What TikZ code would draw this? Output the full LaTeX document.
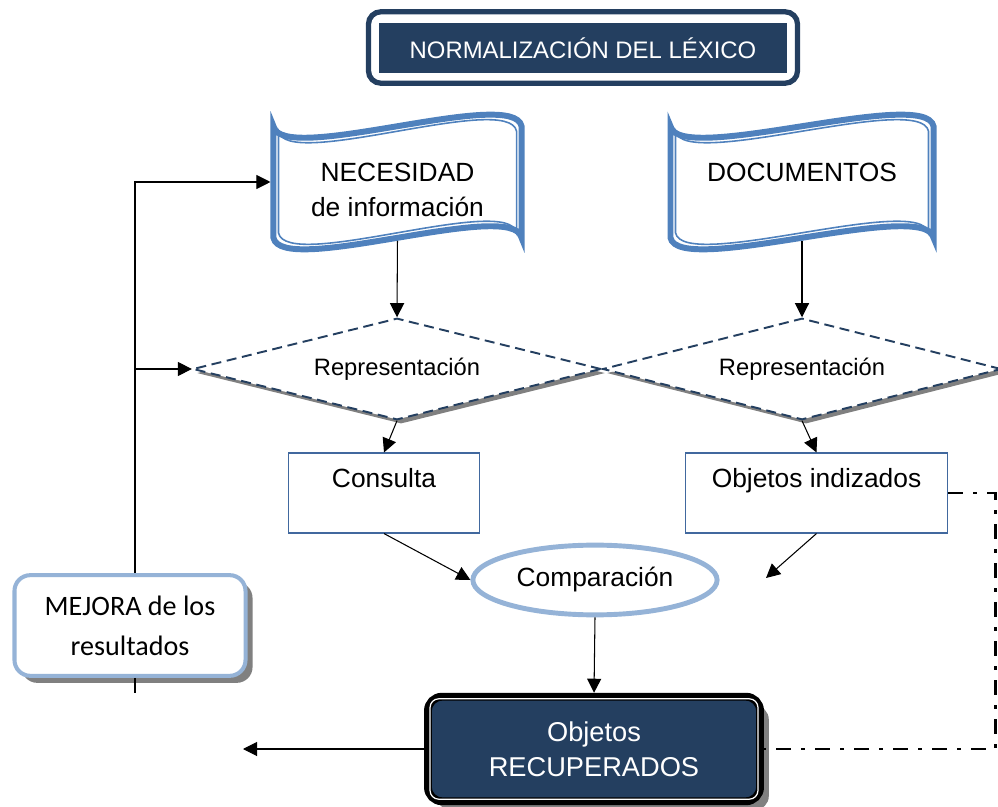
\documentclass[tikz,border=0pt]{standalone}
\usepackage{fontspec}
\setmainfont{Liberation Sans}
\newfontfamily\calibri{Carlito}
\usetikzlibrary{shapes.geometric,arrows.meta,calc,shadows}

\definecolor{navy}{HTML}{243F60}
\definecolor{docblue}{HTML}{4F81BD}
\definecolor{paleblue}{HTML}{95B3D7}
\definecolor{boxblue}{HTML}{41689E}
\definecolor{shgray}{HTML}{808080}

\tikzset{
  conn/.style={line width=0.6pt},
  arr/.style={conn,-{Triangle[length=8pt,width=8pt]}},
  docnode/.style={minimum height=63.5pt, inner sep=0pt, outer sep=0pt},
  doctext/.style={inner sep=0pt, align=center, font=\fontsize{15}{20.4}\selectfont},
  docline/.style={draw=docblue, line width=3.4pt, miter limit=12},
  docinner/.style={draw=docblue, line width=0.9pt, miter limit=12},
  repr/.style={diamond, aspect=4, draw=navy, dash pattern=on 5.7pt off 3.2pt, line width=1.1pt,
    fill=white, inner sep=0pt, minimum height=57.8pt, font=\fontsize{13.5}{16}\selectfont,
    drop shadow={shadow xshift=2.3pt, shadow yshift=-2.3pt, fill=shgray, opacity=1}},
  box/.style={draw=boxblue, line width=0.75pt, fill=white, minimum height=45.4pt, inner ysep=0pt,
    text height=19.8pt, text depth=25.5pt, font=\fontsize{15}{18}\selectfont}
}

% hoja ondulada alrededor de un nodo
\newcommand{\docwave}[1]{%
  \draw[docline] (#1.north west) .. controls ($(#1.north west)+(8,40)$) and ($(#1.north east)+(-8,-40)$) .. (#1.north east)
    -- (#1.south east) .. controls ($(#1.south east)+(-8,-40)$) and ($(#1.south west)+(8,40)$) .. (#1.south west) -- cycle;
  \draw[docinner] ($(#1.north west)+(5,5)$) .. controls ($(#1.north west)+(13,45)$) and ($(#1.north east)+(-13,-35)$) .. ($(#1.north east)+(-5,5)$)
    -- ($(#1.south east)+(-5,-5)$) .. controls ($(#1.south east)+(-13,-45)$) and ($(#1.south west)+(13,35)$) .. ($(#1.south west)+(5,-5)$) -- cycle;
}

\begin{document}
\begin{tikzpicture}[x=0.02cm, y=-0.02cm]
        \useasboundingbox (0,0) rectangle (998,807);
        % titulo
        \node[fill=navy, text=white, minimum width=232.4pt, minimum height=28.3pt, inner sep=0pt,
          font=\fontsize{13.6}{16}\selectfont] (titulo) at (583,48) {NORMALIZACIÓN DEL LÉXICO};
        \draw[navy, line width=3pt, rounded corners=7pt] ($(titulo.north west)+(-10,-11)$) rectangle ($(titulo.south east)+(10,10)$);
        % documentos de entrada
        \node[docnode, minimum width=141.2pt] (necesidad) at (397.5,182) {};
        \node[docnode, minimum width=149.7pt] (documentos) at (802,182) {};
        \docwave{necesidad}
        \docwave{documentos}
        \node[doctext] (necesidadtxt) at (397.5,190) {NECESIDAD\\de información};
        \node[doctext] (documentostxt) at (802,172) {DOCUMENTOS};
        % representaciones
        \node[repr, minimum width=232.4pt] (rep1) at (397,369) {Representación};
        \node[repr, minimum width=226.8pt] (rep2) at (802,369) {Representación};
        \node[box, minimum width=108.8pt] (consulta) at (384,493) {Consulta};
        \node[box, minimum width=149.1pt] (objetos) at (816.5,493) {Objetos indizados};
        \node[ellipse, draw=paleblue, line width=2.8pt, fill=white, minimum width=139pt, minimum height=39.7pt,
          inner sep=0pt, font=\fontsize{15}{18}\selectfont] (comp) at (595,580) {Comparación};
        % resultado
        \node[fill=navy, draw=black, line width=4.5pt, rounded corners=8pt, text=white, minimum width=189pt,
          minimum height=59.5pt, align=center, font=\fontsize{15.5}{19.8}\selectfont,
          drop shadow={shadow xshift=5pt, shadow yshift=-5pt, fill=shgray, opacity=1}] (recup) at (594,749) {Objetos\\RECUPERADOS};
        \draw[white, line width=0.7pt, rounded corners=5pt] ($(recup.north west)+(6,6)$) rectangle ($(recup.south east)+(-6,-6)$);
        \node[draw=paleblue, line width=2.3pt, fill=white, rounded corners=9pt, minimum width=131.5pt, minimum height=57.3pt,
          align=center, font=\calibri\fontsize{16}{22.7}\selectfont,
          drop shadow={shadow xshift=4pt, shadow yshift=-4pt, fill=shgray, opacity=1}] (mejora) at (130,625.5) {MEJORA de los\\resultados};
        \coordinate (lazo) at (135,693);
        \coordinate (retorno) at (243,749);
        \coordinate (borde) at (995,493);
        \coordinate (compder) at (766,578);
        % conexiones
        \draw[arr, shorten >=1.7pt] (mejora.north -| lazo) |- (necesidad.west);
        \draw[arr] (rep1.west -| lazo) -- (rep1.west);
        \draw[conn] (mejora.south -| lazo) -- (lazo);
        \draw[arr, shorten <=1.7pt] (necesidad.south) -- (rep1.north);
        \draw[arr, shorten <=1.7pt] (documentos.south) -- (rep2.north);
        \draw[arr] (rep1.south) -- (consulta.north);
        \draw[arr] (rep2.south) -- (objetos.north);
        \draw[arr] (consulta.south) -- (comp.west);
        \draw[arr] (objetos.south) -- (compder);
        \draw[arr] (comp.south) -- (recup.north);
        \draw[arr] (recup.west) -- (retorno);
        \draw[line width=1.7pt, dash pattern=on 8.5pt off 5.7pt on 2.3pt off 5.7pt] (objetos.east) -| (borde |- recup.east) -- (recup.east);
\end{tikzpicture}
\end{document}
